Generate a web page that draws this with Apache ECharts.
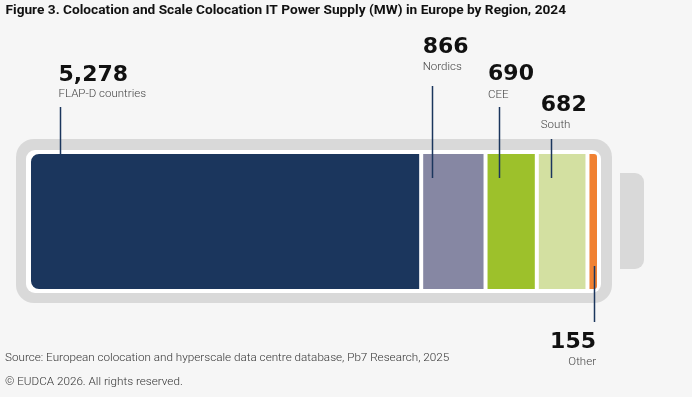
<!DOCTYPE html>
<html><head><meta charset="utf-8">
<script src="https://cdn.jsdelivr.net/npm/echarts@6/dist/echarts.min.js"></script>
<style>html,body{margin:0;padding:0;background:#f6f6f6}#c{width:692px;height:397px}</style>
</head><body><div id="c"></div>
<script>
// ---- data ----
const regions = ['FLAP-D countries', 'Nordics', 'CEE', 'South', 'Other'];
const supplyMW = [5278, 866, 690, 682, 155];
const valueLabels = ['5,278', '866', '690', '682', '155'];
const yearCategory = ['2024'];
const titleText = 'Figure 3. Colocation and Scale Colocation IT Power Supply (MW) in Europe by Region, 2024';
const sourceText = 'Source: European colocation and hyperscale data centre database, Pb7 Research, 2025';
const copyrightText = '\u00A9 EUDCA 2026. All rights reserved.';

// ---- styles / layout ----
const colors = ['#1b365d', '#8687a3', '#9dc12b', '#d3e0a1', '#f08132'];
const labelDx = [29.5, 1.5, 2.5, 4, -3];
const leaderDx = [31, 11, 13.5, 14, 6.5];
const valueBaseline = [82.7, 55, 82, 113, 350];
const nameBaseline = [98.5, 71, 99, 129, 366];
const leaderTop = [107, 86, 107, 139, 266];
const leaderBottom = [154, 178, 178, 178, 322];
const labelAlign = ['left', 'left', 'left', 'left', 'right'];
const G = { left: 29, top: 152, width: 570, height: 139 };

const total = supplyMW.reduce((a, b) => a + b, 0);
const chart = echarts.init(document.getElementById('c'), null, { renderer: 'canvas' });

const series = regions.map((r, i) => ({
  name: r,
  type: 'bar',
  stack: 'total',
  barWidth: G.height,
  data: [supplyMW[i]],
  silent: true,
  itemStyle: {
    color: colors[i],
    borderColor: '#ffffff',
    borderWidth: 2,
    borderRadius: i === 0 ? [9, 0, 0, 9] : (i === regions.length - 1 ? [0, 4, 4, 0] : 0)
  },
  z: 5
}));

chart.setOption({
  animation: false,
  backgroundColor: '#f6f6f6',
  grid: { left: G.left, top: G.top, width: G.width, height: G.height },
  xAxis: { type: 'value', min: 0, max: total, show: false },
  yAxis: { type: 'category', data: yearCategory, show: false },
  series: series
});

const BIGFS = 22, SMALLFS = 11.5;
const BIG = 'bold ' + BIGFS + 'px "DejaVu Sans"';
const SMALL = '300 ' + SMALLFS + 'px Roboto';
const graphics = [
  // battery frame
  { type: 'rect', z: 0, shape: { x: 16, y: 139, width: 596, height: 164, r: 18 }, style: { fill: '#d9d9d9' } },
  { type: 'rect', z: 1, shape: { x: 26, y: 150, width: 575, height: 143, r: 9 }, style: { fill: '#ffffff' } },
  { type: 'rect', z: 0, shape: { x: 620, y: 173, width: 24, height: 96, r: [0, 9, 9, 0] }, style: { fill: '#d9d9d9' } },
  // texts
  { type: 'text', z: 20, style: { text: titleText, x: 5.5, y: 15 - 0.34 * 13.7, font: 'bold 13.7px Roboto', fill: '#111', verticalAlign: 'middle' } },
  { type: 'text', z: 20, style: { text: sourceText, x: 5, y: 362 - 0.34 * 11.7, font: '300 11.7px Roboto', fill: '#333', verticalAlign: 'middle' } },
  { type: 'text', z: 20, style: { text: copyrightText, x: 5, y: 386 - 0.34 * 11.7, font: '300 11.7px Roboto', fill: '#333', verticalAlign: 'middle' } }
];

let cum = 0;
supplyMW.forEach((v, i) => {
  const x0 = chart.convertToPixel({ xAxisIndex: 0 }, cum);
  const x1 = chart.convertToPixel({ xAxisIndex: 0 }, cum + v);
  cum += v;
  const lx = Math.round(x0 + leaderDx[i]) + 0.5;
  const tx = labelAlign[i] === 'right' ? x1 + labelDx[i] : x0 + labelDx[i];
  graphics.push({ type: 'line', z: 30, shape: { x1: lx, y1: leaderTop[i], x2: lx, y2: leaderBottom[i] }, style: { stroke: '#1b365d', lineWidth: 1.5 } });
  graphics.push({ type: 'text', z: 30, style: { text: valueLabels[i], x: tx, y: valueBaseline[i] - 0.34 * BIGFS, font: BIG, fill: '#111', align: labelAlign[i], verticalAlign: 'middle' } });
  graphics.push({ type: 'text', z: 30, style: { text: regions[i], x: tx, y: nameBaseline[i] - 0.34 * SMALLFS, font: SMALL, fill: '#444', align: labelAlign[i], verticalAlign: 'middle' } });
});

chart.setOption({ graphic: graphics });
</script>
</body></html>
